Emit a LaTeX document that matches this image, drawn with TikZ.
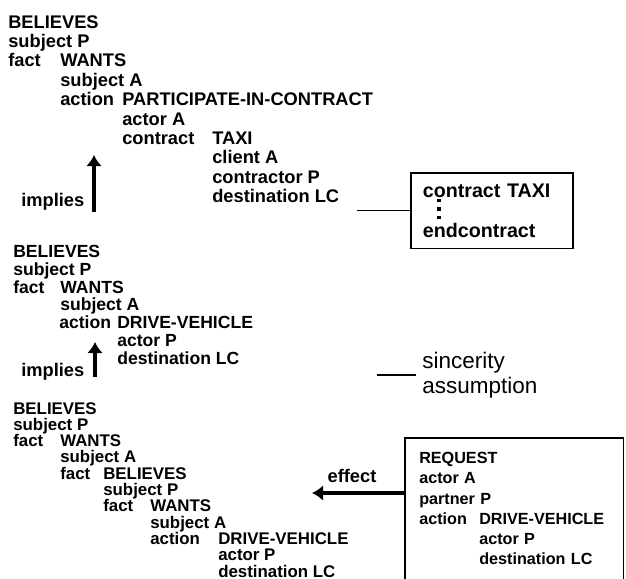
\documentclass[tikz,border=0pt]{standalone}
\usepackage{fontspec}
\setmainfont{Liberation Sans}
\usetikzlibrary{arrows.meta}

\newcommand{\slotname}[2]{\makebox[#1][l]{#2}}
\newcommand{\handsize}[2]{\fontsize{#1}{#2}\selectfont\bfseries\lineskiplimit=-20pt}
\newcommand{\handdot}{\hbox{\rule{2.6pt}{2.6pt}}}

\begin{document}
\begin{tikzpicture}[believes/.style={align=left, anchor=north west, inner sep=0pt},
        boxline/.style={line width=1.2pt},
        hand/.style={font=\handsize{13}{15}, inner sep=1pt},
        thickarrow/.style={line width=2.2pt, -{Latex[length=2.8mm,width=4mm]}}]
        \useasboundingbox (0,0) rectangle (15.65,-14.475);

        % the three beliefs
        \node[believes, font=\handsize{13}{13.8}] (believeA) at (0.2,-0.375) {BELIEVES\\ subject P\\ \slotname{1.3cm}{fact}WANTS\\ \hspace*{1.3cm}subject A\\ \hspace*{1.3cm}\slotname{1.55cm}{action}PARTICIPATE-IN-CONTRACT\\ \hspace*{2.85cm}actor A\\ \hspace*{2.85cm}\slotname{2.25cm}{contract}TAXI\\ \hspace*{5.1cm}client A\\ \hspace*{5.1cm}contractor P\\ \hspace*{5.1cm}destination LC};
        \node[believes, font=\handsize{12.5}{12.66}] (believeB) at (0.325,-6.125) {BELIEVES\\ subject P\\ \slotname{1.175cm}{fact}WANTS\\ \hspace*{1.175cm}subject A\\ \hspace*{1.15cm}\slotname{1.45cm}{action}DRIVE-VEHICLE\\ \hspace*{2.6cm}actor P\\ \hspace*{2.6cm}destination LC};
        \node[believes, font=\handsize{12}{11.6}] (believeC) at (0.325,-10.05) {BELIEVES\\ subject P\\ \slotname{1.175cm}{fact}WANTS\\ \hspace*{1.175cm}subject A\\ \hspace*{1.175cm}\slotname{1.075cm}{fact}BELIEVES\\ \hspace*{2.25cm}subject P\\ \hspace*{2.25cm}\slotname{1.175cm}{fact}WANTS\\ \hspace*{3.425cm}subject A\\ \hspace*{3.425cm}\slotname{1.7cm}{action}DRIVE-VEHICLE\\ \hspace*{5.125cm}actor P\\ \hspace*{5.125cm}destination LC};

        % boxes on the right
        \node[draw, boxline, align=left, anchor=north west, text width=3.45cm, inner xsep=0.3cm, inner ysep=0.27cm, font=\fontsize{14}{13}\selectfont\bfseries] (contract) at (10.25,-4.3) {contract TAXI\\ \hspace*{0.35cm}\vbox{\offinterlineskip\handdot\vskip3.4pt\handdot\vskip3.4pt\handdot}\\ endcontract};
        \node[align=left, anchor=north west, text width=4.75cm, inner xsep=0.35cm, inner ysep=0.35cm, font=\handsize{11.5}{14.4}] (request) at (10.125,-10.95) {REQUEST\\ actor A\\ partner P\\ \slotname{1.5cm}{action}\mbox{DRIVE-VEHICLE}\\ \hspace*{1.5cm}actor P\\ \hspace*{1.5cm}destination LC};
        \draw[boxline] (request.north west) rectangle ([yshift=-0.5cm]request.south east);

        \node[anchor=west, align=left, inner sep=0.15cm, font=\fontsize{16}{18}\selectfont] (sincerity) at (10.4,-9.375) {sincerity\\ assumption};
        \node[hand, anchor=east] (impA) at (2.15,-5.05) {implies};
        \node[hand, anchor=east] (impB) at (2.15,-9.3) {implies};

        \coordinate (tipA) at (2.35,-3.875);
        \coordinate (footA) at (2.35,-5.3);
        \coordinate (tipB) at (2.375,-8.55);
        \coordinate (footB) at (2.375,-9.425);
        \coordinate (lcend) at (8.925,-5.25);
        \coordinate (sincend) at (9.425,-9.375);
        \coordinate (efftip) at (7.8,-12.325);

        \draw[thickarrow] (footA) -- (tipA);
        \draw[thickarrow] (footB) -- (tipB);
        \draw[line width=1pt] (lcend |- contract.west) -- (contract.west);
        \draw[line width=1pt] (sincend) -- (sincerity.west);
        \draw[thickarrow] (request.west |- efftip) -- node[hand, above=5pt, pos=0.57] (effect) {effect} (efftip);
\end{tikzpicture}
\end{document}
